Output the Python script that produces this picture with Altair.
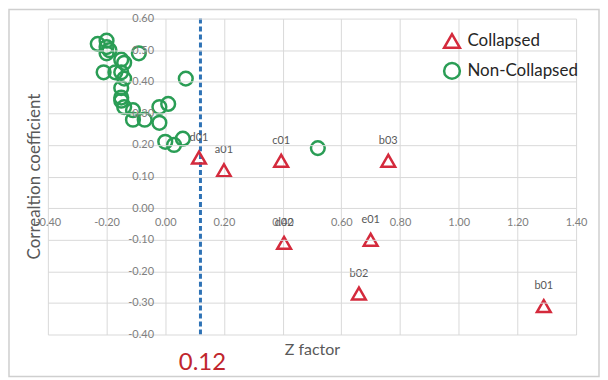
import altair as alt
import pandas as pd

# Non-collapsed points
nc_x = [-0.23, -0.20, -0.20, -0.19, -0.20, -0.09, -0.15, -0.14, -0.21, -0.17, -0.15, -0.14, 0.07,
        -0.15, -0.15, -0.15, -0.14, -0.11, -0.11, -0.07, -0.02, 0.01, -0.02, 0.00, 0.03, 0.06, 0.52]
nc_y = [0.52, 0.53, 0.51, 0.50, 0.49, 0.49, 0.47, 0.46, 0.43, 0.43, 0.43, 0.41, 0.41,
        0.38, 0.35, 0.34, 0.32, 0.31, 0.28, 0.28, 0.32, 0.33, 0.27, 0.21, 0.20, 0.22, 0.19]

# Collapsed points
c_labels = ["d01", "a01", "c01", "b03", "d02", "e01", "b02", "b01"]
c_x = [0.115, 0.20, 0.395, 0.76, 0.405, 0.70, 0.66, 1.29]
c_y = [0.16, 0.12, 0.15, 0.15, -0.11, -0.10, -0.27, -0.31]

x_ticks = [-0.4, -0.2, 0.0, 0.2, 0.4, 0.6, 0.8, 1.0, 1.2, 1.4]
y_ticks = [-0.4, -0.3, -0.2, -0.1, 0.0, 0.1, 0.2, 0.3, 0.4, 0.5, 0.6]
threshold = 0.12

FONT = "Lato"
GRID = "#d9d9d9"
LAB = "#808080"

df = pd.DataFrame({
    "x": c_x + nc_x,
    "y": c_y + nc_y,
    "group": ["Collapsed"] * len(c_x) + ["Non-Collapsed"] * len(nc_x),
})
lab_df = pd.DataFrame({"x": c_x, "y": c_y, "label": c_labels})

lblexpr = "replace(format(datum.value, '.2f'), '\u2212', '-')"

xscale = alt.Scale(domain=[-0.4, 1.4], nice=False, zero=False)
yscale = alt.Scale(domain=[-0.4, 0.6], nice=False, zero=False)

x_axis = alt.Axis(values=x_ticks, labelExpr=lblexpr, offset=-127, ticks=False, domain=False,
                  labelOverlap=False, labelFlush=False, labelPadding=9, labelColor=LAB,
                  labelFontSize=11, labelFont=FONT,
                  gridColor=GRID, title="Z factor", titleFont=FONT, titleFontSize=16,
                  titleFontWeight="normal", titleColor="#595959", titleY=134)
y_axis = alt.Axis(values=y_ticks, labelExpr=lblexpr, offset=-118, ticks=False, domain=False,
                  labelOverlap=False, labelFlush=False, labelPadding=12, labelColor=LAB,
                  labelFontSize=11, labelFont=FONT, zindex=1,
                  gridColor=GRID, title="Correaltion coefficient", titleFont=FONT, titleFontSize=17,
                  titleFontWeight="normal", titleColor="#595959", titleX=-122, titleY=158)

X = alt.X("x:Q", scale=xscale, axis=x_axis)
Y = alt.Y("y:Q", scale=yscale, axis=y_axis)

frame = alt.Chart(pd.DataFrame({"a": [0]})).mark_rect(
    fill=None, stroke="#cfcfcf", strokeWidth=1.5
).encode(x=alt.value(-39), x2=alt.value(553), y=alt.value(-9), y2=alt.value(359))

leg = alt.Legend(title=None, orient="none", legendX=396, legendY=13,
                 labelFont=FONT, labelFontSize=17, labelColor="#262626",
                 symbolSize=250, symbolStrokeWidth=2.5, rowPadding=4,
                 padding=0, labelOffset=6)
domain = ["Collapsed", "Non-Collapsed"]

points = alt.Chart(df).mark_point(filled=False, strokeWidth=2.5, size=190, opacity=1).encode(
    x=X, y=Y,
    shape=alt.Shape("group:N", scale=alt.Scale(domain=domain, range=["triangle-up", "circle"]), legend=leg),
    color=alt.Color("group:N", scale=alt.Scale(domain=domain, range=["#d42a3c", "#2a9d55"]), legend=leg),
)

labels = alt.Chart(lab_df).mark_text(font=FONT, fontSize=11, color="#595959", dy=-20).encode(
    x=X, y=Y, text="label:N"
)

thr_df = pd.DataFrame({"x": [threshold], "y": [-0.4], "t": ["0.12"]})
rule = alt.Chart(thr_df).mark_rule(color="#2e72b5", strokeWidth=3, strokeDash=[5, 3]).encode(
    x=X
)
thr_text = alt.Chart(thr_df).mark_text(font=FONT, fontSize=24, color="#c0262d", dy=29, dx=2).encode(
    x=X, y=Y, text="t:N"
)

chart = alt.layer(frame, rule, points, labels, thr_text).properties(
    width=530, height=317,
    autosize=alt.AutoSizeParams(type="none"),
    padding={"left": 40, "top": 10, "right": 24, "bottom": 44},
).configure_view(stroke=None).configure_axis(grid=True)

chart.save("out.html", embed_options={"renderer": "svg", "actions": False})
